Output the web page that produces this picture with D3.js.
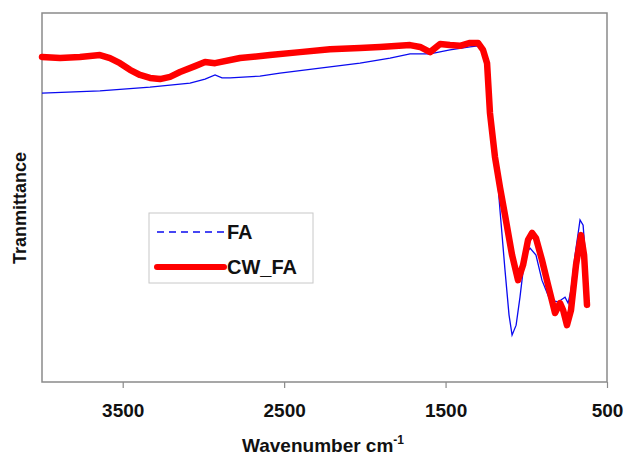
<!doctype html>
<html>
<head>
    <script src="https://cdnjs.cloudflare.com/ajax/libs/d3/7.8.5/d3.min.js"></script>
    <style>
        body { margin: 0; background: #fff; }
        text { font-family: "Liberation Sans", Arial, sans-serif; font-weight: bold; }
    </style>
</head>
<body>
<svg id="chart" width="624" height="459"></svg>
<script>
    // FTIR spectra, wavenumber (cm-1) vs transmittance (arbitrary units)
    faWave = [4000, 3641, 3331, 3083, 2990, 2928, 2885, 2835, 2650, 2526, 2216, 2030, 1844, 1720, 1596, 1473, 1349, 1299,
        1262, 1237, 1212, 1181, 1163, 1132, 1107, 1088, 1063, 1039, 1008, 977, 940, 903, 853, 803, 760, 741, 723, 698, 667, 648, 630, 618]
    faValue = [78.3, 78.9, 79.9, 81.0, 82.1, 83.2, 82.4, 82.4, 82.9, 83.7, 85.4, 86.4, 87.8, 88.9, 88.9, 90.0, 90.8, 91.1,
        89.4, 81.8, 65.6, 56.6, 46.6, 30.4, 18.2, 12.7, 15.4, 23.0, 34.4, 36.3, 34.4, 27.6, 22.2, 21.7, 23.0, 21.4, 24.9, 34.4, 43.9, 42.5, 32.2, 22.2]

    cwWave = [4000, 3888, 3765, 3641, 3579, 3517, 3455, 3393, 3331, 3269, 3207, 3145, 3052, 2990, 2928, 2773, 2588, 2402, 2216,
        2030, 1906, 1720, 1658, 1596, 1534, 1473, 1411, 1349, 1299, 1268, 1243, 1225, 1194, 1163, 1132, 1088, 1051, 1020, 989,
        964, 940, 903, 865, 822, 791, 772, 748, 723, 692, 661, 642, 624]
    cwValue = [88.1, 87.8, 88.1, 88.6, 87.8, 86.4, 84.6, 83.2, 82.4, 82.1, 82.7, 84.0, 85.6, 86.7, 86.4, 87.8, 88.6, 89.4, 90.2,
        90.5, 90.8, 91.3, 90.8, 89.4, 91.6, 91.3, 91.1, 91.9, 91.9, 90.0, 86.4, 72.9, 61.0, 52.8, 45.3, 34.4, 27.6, 31.7, 38.5,
        40.4, 39.0, 33.1, 26.3, 18.7, 21.4, 19.5, 15.4, 19.5, 31.7, 39.8, 34.4, 20.9]

    xTicks = [3500, 2500, 1500, 500]
    seriesNames = ["FA", "CW_FA"]

    var svg = d3.select("#chart")
    var pLeft = 42, pRight = 607, pTop = 13, pBottom = 382

    var x = d3.scaleLinear().domain([4000, 500]).range([pLeft, pRight])
    var y = d3.scaleLinear().domain([0, 100]).range([pBottom, pTop])

    svg.append("rect")
        .attr("x", pLeft).attr("y", pTop)
        .attr("width", pRight - pLeft).attr("height", pBottom - pTop)
        .style("fill", "none").style("stroke", "#8a8a8a").style("stroke-width", 1.5)

    var xAxis = svg.append("g")
        .attr("transform", "translate(0," + pBottom + ")")
        .call(d3.axisBottom(x).tickValues(xTicks).tickSize(6).tickPadding(16).tickFormat(d3.format("d")))
    xAxis.select(".domain").remove()
    xAxis.selectAll("line").style("stroke", "#8a8a8a").style("stroke-width", 1.2)
    xAxis.selectAll("text").style("font-size", "19px").style("fill", "#111")
        .style("font-family", "'Liberation Sans', Arial, sans-serif").style("font-weight", "bold")

    var line = d3.line().x(d => x(d[0])).y(d => y(d[1]))

    svg.append("path")
        .datum(d3.zip(faWave, faValue))
        .attr("d", line)
        .style("fill", "none").style("stroke", "#0a0af0").style("stroke-width", 1.3)

    svg.append("path")
        .datum(d3.zip(cwWave, cwValue))
        .attr("d", line)
        .style("fill", "none").style("stroke", "#ff0000").style("stroke-width", 6.5)
        .style("stroke-linejoin", "round").style("stroke-linecap", "round")

    // legend
    var lg = svg.append("g")
    lg.append("rect")
        .attr("x", 149).attr("y", 213).attr("width", 164).attr("height", 70)
        .style("fill", "#fff").style("stroke", "#c8c8c8").style("stroke-width", 1)
    lg.append("line")
        .attr("x1", 157).attr("x2", 224).attr("y1", 232).attr("y2", 232)
        .style("stroke", "#0a0af0").style("stroke-width", 1.5).style("stroke-dasharray", "7,5")
    lg.append("line")
        .attr("x1", 157).attr("x2", 224).attr("y1", 267).attr("y2", 267)
        .style("stroke", "#ff0000").style("stroke-width", 6).style("stroke-linecap", "round")
    lg.selectAll("text.leg")
        .data(seriesNames)
        .enter()
        .append("text")
        .attr("class", "leg")
        .attr("x", 227)
        .attr("y", (d, i) => 239 + i * 35)
        .style("font-size", "20px").style("fill", "#111")
        .text(d => d)

    // axis titles
    var xt = svg.append("text")
        .attr("x", 323).attr("y", 452)
        .attr("text-anchor", "middle")
        .style("font-size", "19px").style("fill", "#111")
    xt.append("tspan").text("Wavenumber cm")
    xt.append("tspan").attr("dy", -8).style("font-size", "12px").text("-1")

    svg.append("text")
        .attr("transform", "translate(26,208) rotate(-90)")
        .attr("text-anchor", "middle")
        .style("font-size", "18px").style("fill", "#111")
        .text("Tranmittance")
</script>
</body>
</html>
